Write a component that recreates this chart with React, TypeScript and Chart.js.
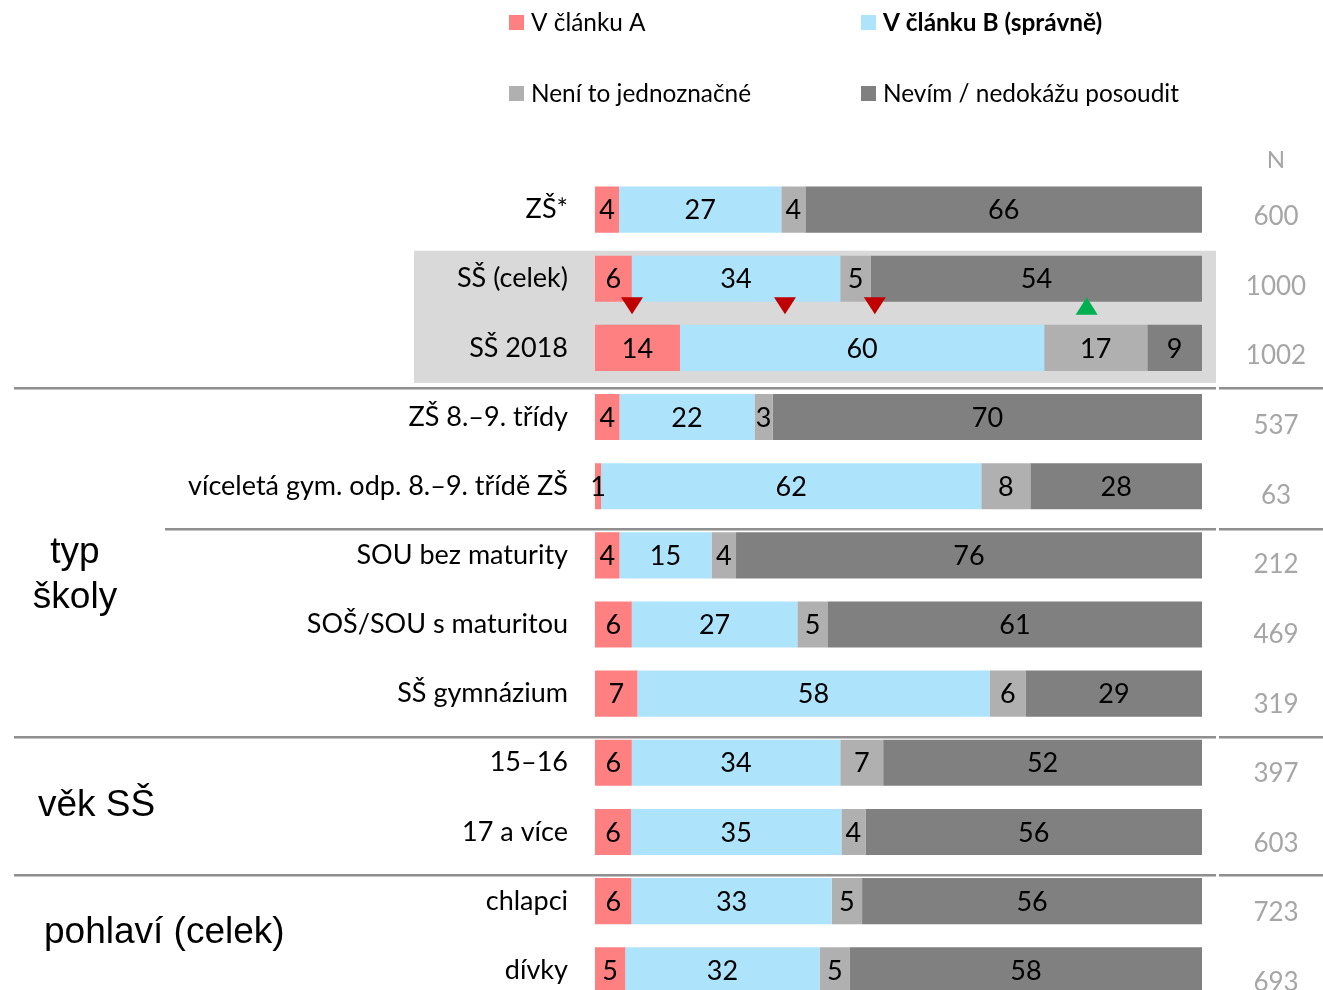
import React, { useEffect, useRef } from 'react';
import { Chart, registerables } from 'chart.js';

Chart.register(...registerables);

const categories = [
  'ZŠ*',
  'SŠ (celek)',
  'SŠ 2018',
  'ZŠ 8.–9. třídy',
  'víceletá gym. odp. 8.–9. třídě ZŠ',
  'SOU bez maturity',
  'SOŠ/SOU s maturitou',
  'SŠ gymnázium',
  '15–16',
  '17 a více',
  'chlapci',
  'dívky',
];

const clanekA = [4, 6, 14, 4, 1, 4, 6, 7, 6, 6, 6, 5];
const clanekB = [27, 34, 60, 22, 62, 15, 27, 58, 34, 35, 33, 32];
const nejednoznacne = [4, 5, 17, 3, 8, 4, 5, 6, 7, 4, 5, 5];
const nevim = [66, 54, 9, 70, 28, 76, 61, 29, 52, 56, 56, 58];

const nValues = [600, 1000, 1002, 537, 63, 212, 469, 319, 397, 603, 723, 693];

// significance markers between "SŠ (celek)" and "SŠ 2018"
const markerValues = [6.1, 31.3, 46.1, 81.0];
const markerDirections = ['down', 'down', 'down', 'up'];

const seriesLabels = ['V článku A', 'V článku B (správně)', 'Není to jednoznačné', 'Nevím / nedokážu posoudit'];
const seriesColors = ['#ff8080', '#ade3fb', '#b0b0b0', '#808080'];

const FONT = 'Lato, "Noto Sans", sans-serif';
const ARIAL = '"Liberation Sans", Arial, sans-serif';

export default function App() {
  const ref = useRef<HTMLCanvasElement>(null);

  useEffect(() => {
    const canvas = ref.current;
    if (!canvas) return;
    const raw = [clanekA, clanekB, nejednoznacne, nevim];
    const sums = categories.map((_, i) => raw.reduce((s, arr) => s + arr[i], 0));

    const decor = {
      id: 'decor',
      beforeDraw(chart: any) {
        const { ctx, chartArea } = chart;
        const y = chart.scales.y;
        ctx.save();
        const top = y.getPixelForValue(1) - 28;
        const bottom = y.getPixelForValue(2) + 35;
        ctx.fillStyle = '#d9d9d9';
        ctx.fillRect(414, top, chartArea.right + 14 - 414, bottom - top);
        const seps = [
          { after: 2, x0: 14, off: 5 },
          { after: 4, x0: 165, off: 7 },
          { after: 7, x0: 14, off: 8 },
          { after: 9, x0: 14, off: 7 },
        ];
        seps.forEach((s) => {
          const ly = Math.round(y.getPixelForValue(s.after + 0.5) + s.off);
          ctx.fillStyle = '#8f8f8f';
          ctx.fillRect(s.x0, ly, chartArea.right + 14 - s.x0, 2);
          ctx.fillRect(chartArea.right + 17, ly, 1323 - chartArea.right - 17, 2);
          ctx.fillStyle = '#c4c4c4';
          ctx.fillRect(s.x0, ly + 2, chartArea.right + 14 - s.x0, 1);
          ctx.fillRect(chartArea.right + 17, ly + 2, 1323 - chartArea.right - 17, 1);
        });
        ctx.restore();
      },
      afterDatasetsDraw(chart: any) {
        const { ctx } = chart;
        const xs = chart.scales.x;
        const ys = chart.scales.y;
        ctx.save();
        ctx.font = `27px ${FONT}`;
        ctx.fillStyle = '#000';
        ctx.textAlign = 'center';
        ctx.textBaseline = 'middle';
        chart.data.datasets.forEach((ds: any, di: number) => {
          const meta = chart.getDatasetMeta(di);
          meta.data.forEach((el: any, i: number) => {
            const cx = (el.x + el.base) / 2;
            ctx.fillText(String(raw[di][i]), cx, el.y + 1);
          });
        });
        const rowY = ys.getPixelForValue(1);
        markerValues.forEach((v, i) => {
          const mx = xs.getPixelForValue(v);
          ctx.beginPath();
          if (markerDirections[i] === 'down') {
            ctx.fillStyle = '#c00000';
            ctx.moveTo(mx - 11, rowY + 18.5);
            ctx.lineTo(mx + 11, rowY + 18.5);
            ctx.lineTo(mx, rowY + 35.5);
          } else {
            ctx.fillStyle = '#00b050';
            ctx.moveTo(mx - 11, rowY + 36);
            ctx.lineTo(mx + 11, rowY + 36);
            ctx.lineTo(mx, rowY + 18.5);
          }
          ctx.closePath();
          ctx.fill();
        });
        ctx.fillStyle = '#a6a6a6';
        ctx.font = `24px ${FONT}`;
        ctx.fillText('N', 1276, 160);
        ctx.font = `26px ${FONT}`;
        nValues.forEach((n, i) => {
          ctx.fillText(String(n), 1276, ys.getPixelForValue(i) + 7 + i * 0.5);
        });
        const legendPos = [
          { x: 509, y: 22 },
          { x: 861, y: 22 },
          { x: 509, y: 93 },
          { x: 861, y: 93 },
        ];
        ctx.textAlign = 'left';
        seriesLabels.forEach((lab, i) => {
          const p = legendPos[i];
          ctx.fillStyle = seriesColors[i];
          ctx.fillRect(p.x, p.y - 7, 15, 15);
          ctx.fillStyle = '#000';
          ctx.font = `${i === 1 ? 'bold ' : ''}24.4px ${FONT}`;
          ctx.fillText(lab, p.x + 22, p.y + 1);
        });
        ctx.font = `37px ${ARIAL}`;
        ctx.fillStyle = '#000';
        ctx.textAlign = 'center';
        ctx.fillText('typ', 75, 553);
        ctx.fillText('školy', 75, 598);
        ctx.textAlign = 'left';
        ctx.fillText('věk SŠ', 38, 806);
        ctx.fillText('pohlaví (celek)', 44, 933);
        ctx.restore();
      },
    };

    const chart = new Chart(canvas, {
      type: 'bar',
      data: {
        labels: categories,
        datasets: raw.map((arr, di) => ({
          label: seriesLabels[di],
          data: arr.map((v, i) => (v / sums[i]) * 100),
          backgroundColor: seriesColors[di],
          borderWidth: 0,
          categoryPercentage: 1,
          barPercentage: 46 / 69,
        })),
      },
      options: {
        indexAxis: 'y',
        responsive: false,
        animation: false,
        devicePixelRatio: 1,
        events: [],
        layout: { padding: { left: 0, right: 121, top: 175, bottom: 7 } },
        plugins: { legend: { display: false }, tooltip: { enabled: false } },
        scales: {
          x: { stacked: true, min: 0, max: 100, display: false },
          y: {
            stacked: true,
            grid: { display: false, drawTicks: false },
            border: { display: false },
            ticks: { font: { family: FONT, size: 27 }, color: '#000', padding: 27, autoSkip: false },
            afterFit(scale: any) {
              scale.width = 595;
            },
          },
        },
      } as any,
      plugins: [decor],
    });
    return () => chart.destroy();
  }, []);

  return (
    <div style={{ position: 'absolute', left: 0, top: 0, width: 1323, height: 990, overflow: 'hidden', background: '#fff' }}>
      <canvas ref={ref} width={1323} height={1048} style={{ display: 'block', width: 1323, height: 1048 }} />
    </div>
  );
}
